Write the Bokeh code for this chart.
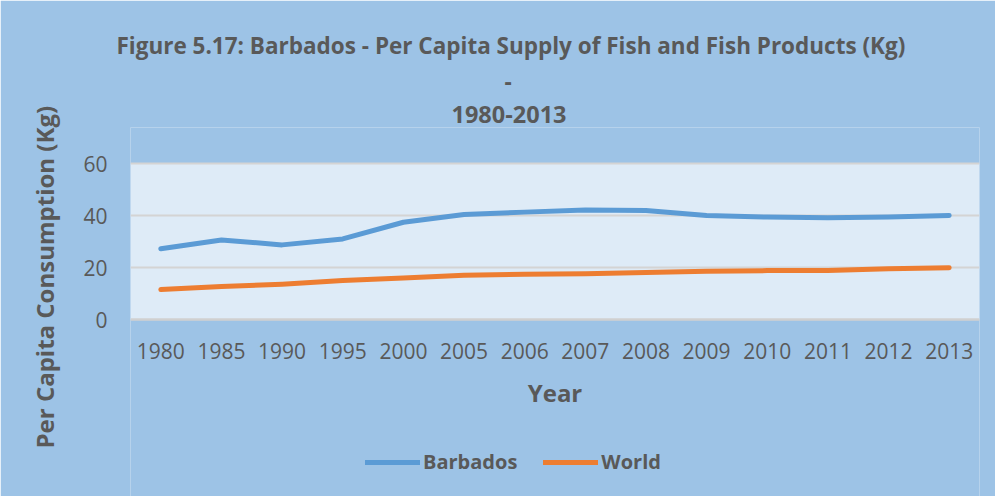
from bokeh.plotting import figure
from bokeh.models import (FactorRange, Range1d, Title, Legend, LegendItem, FixedTicker,
                          ColumnDataSource, BoxAnnotation)
from bokeh.embed import file_html
from bokeh.resources import INLINE

years = ["1980", "1985", "1990", "1995", "2000", "2005", "2006", "2007",
         "2008", "2009", "2010", "2011", "2012", "2013"]
barbados = [27.2, 30.6, 28.7, 31.0, 37.4, 40.4, 41.3, 42.1, 41.9, 40.0, 39.4, 39.1, 39.4, 40.0]
world = [11.5, 12.7, 13.6, 15.0, 16.0, 17.0, 17.4, 17.6, 18.1, 18.6, 18.8, 18.8, 19.5, 19.9]
y_ticks = [0, 20, 40, 60]

TEXT = "#595959"
FONT = "Open Sans"
BG = "#9DC3E6"

src = ColumnDataSource(dict(year=years, barbados=barbados, world=world))

# the frame reaches below the value axis so the legend can sit under it
p = figure(frame_width=849, frame_height=369, x_range=FactorRange(*years, range_padding=0),
           y_range=Range1d(-68.08, 73.85), output_backend="svg", toolbar_location=None,
           min_border_left=130, min_border_right=16, min_border_top=127, min_border_bottom=0)
p.title = None
p.border_fill_color = BG
p.background_fill_color = BG
p.outline_line_color = None

# plot area (0..60)
area = BoxAnnotation(bottom=y_ticks[0], top=y_ticks[-1], fill_color="#DEEBF7", fill_alpha=1,
                     line_color=None, level="image")
p.add_layout(area)

r1 = p.line("year", "barbados", source=src, line_color="#5B9BD5", line_width=5, line_cap="round", line_join="round")
r2 = p.line("year", "world", source=src, line_color="#ED7D31", line_width=5, line_cap="round", line_join="round")

# axes
p.yaxis.ticker = FixedTicker(ticks=y_ticks)
p.xaxis.fixed_location = 0
for ax in (p.xaxis, p.yaxis):
    ax.major_tick_line_color = None
    ax.minor_tick_line_color = None
    ax.major_label_text_color = TEXT
    ax.major_label_text_font = FONT
    ax.major_label_text_font_size = "21px"
    ax.axis_label_text_color = TEXT
    ax.axis_label_text_font = FONT
    ax.axis_label_text_font_style = "bold"
p.yaxis.axis_line_color = None
p.xaxis.axis_line_color = "#D0D0D0"
p.xaxis.axis_line_width = 2
p.yaxis.major_label_standoff = 17
p.xaxis.major_label_standoff = 17
p.xaxis.axis_label = "Year"
p.xaxis.axis_label_text_font_size = "24px"
p.xaxis.axis_label_standoff = 14

p.xgrid.grid_line_color = None
p.ygrid.grid_line_color = "#D4D4D4"
p.ygrid.grid_line_width = 2

# y axis title in the left panel, shifted down like the reference
ytitle = Title(text="Per Capita Consumption (Kg)", align="left", offset=48,
               text_font=FONT, text_font_style="bold", text_font_size="24px",
               text_color=TEXT, standoff=40)
p.add_layout(ytitle, "left")

# legend under the axis title
legend = Legend(items=[LegendItem(label="Barbados", renderers=[r1]),
                       LegendItem(label="World", renderers=[r2])],
                orientation="horizontal", location=(235, 21),
                background_fill_alpha=0, border_line_color=None,
                label_text_font=FONT, label_text_font_style="bold",
                label_text_font_size="20px", label_text_color=TEXT,
                glyph_width=55, label_standoff=3, spacing=26, margin=0, padding=0)
p.add_layout(legend, "center")

# titles: added nearest-first (text, standoff, left offset, size)
title_lines = [("1980-2013", 10, 321, "23.5px"),
               ("-", 18, 374, "22.5px"),
               ("Figure 5.17: Barbados - Per Capita Supply of Fish and Fish Products (Kg)", 2, -14, "22.5px")]
for txt, so, off, fs in title_lines:
    t = Title(text=txt, align="left", offset=off, text_font=FONT, text_font_style="bold",
              text_font_size=fs, text_color=TEXT, standoff=so)
    p.add_layout(t, "above")

open("out.html", "w").write(file_html(p, INLINE))
